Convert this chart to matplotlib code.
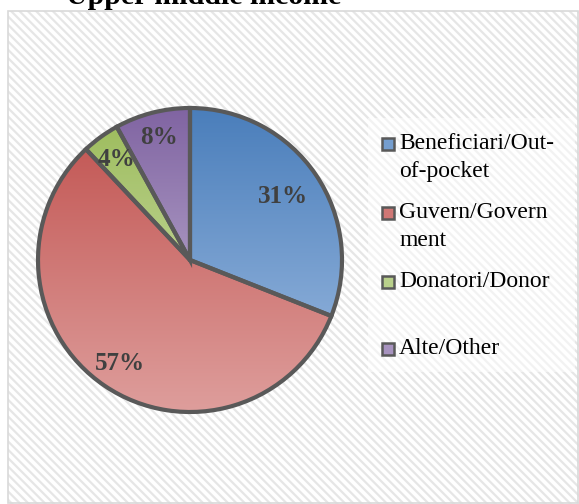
import numpy as np
import matplotlib
matplotlib.use("Agg")
import matplotlib.pyplot as plt
from matplotlib.patches import Rectangle
from matplotlib.colors import to_rgb

plt.rcParams['font.family'] = ['Liberation Serif', 'DejaVu Serif']
plt.rcParams['hatch.linewidth'] = 1.6

title = "Upper middle income"
labels = ["Beneficiari/Out-\nof-pocket", "Guvern/Govern\nment", "Donatori/Donor", "Alte/Other"]
values = [31, 57, 4, 8]
top_colors = ["#4a7ebb", "#c0504d", "#9bbb59", "#8064a2"]
bottom_colors = ["#a0bde2", "#de9e9c", "#d7e4bd", "#cdc2dc"]
pct_dist = [0.74, 0.82, 0.82, 0.83]

W, H = 579, 504
fig = plt.figure(figsize=(W / 100, H / 100), dpi=100)

def fx(px):
    return px / W

def fy(py):
    return 1 - py / H

# striped chart area background
bg = Rectangle((fx(8), 0), 1 - fx(8), fy(11), transform=fig.transFigure,
               facecolor='white', edgecolor='#e6e6e6', hatch='\\\\\\\\', lw=0, zorder=0)
fig.patches.append(bg)
frame = Rectangle((fx(8), fy(503)), fx(570), fy(11) - fy(503), transform=fig.transFigure,
                  facecolor='none', edgecolor='#d9d9d9', lw=1.2, zorder=1)
fig.patches.append(frame)
# lighter legend area
fig.patches.append(Rectangle((fx(368), fy(372)), fx(575) - fx(368), fy(118) - fy(372),
                             transform=fig.transFigure, facecolor='white', alpha=0.5,
                             lw=0, zorder=1))

fig.text(fx(204), fy(4), title, ha='center', va='baseline', fontsize=21.5,
         fontweight='bold', color='black')

# pie axes: center (190, 260), radius 152 px
ax = fig.add_axes([fx(38), fy(412), fx(304), fy(108) - fy(412)])
ax.set_zorder(2)
wedges, _ = ax.pie(values, startangle=90, counterclock=False, radius=1,
                   wedgeprops=dict(edgecolor='#595959', linewidth=3.0, facecolor='none'))
ax.set_xlim(-1, 1)
ax.set_ylim(-1, 1)
ax.set_aspect('auto')
ax.axis('off')

n = 256
for w, c0, c1 in zip(wedges, top_colors, bottom_colors):
    t = np.linspace(0, 1, n)[:, None]
    grad = (1 - t) * np.array(to_rgb(c0)) + t * np.array(to_rgb(c1))
    img = ax.imshow(grad[:, None, :].repeat(2, axis=1), extent=(-1, 1, -1, 1),
                    origin='upper', aspect='auto', zorder=1, interpolation='bilinear')
    img.set_clip_path(w)
    w.set_zorder(3)
    w.set_clip_on(False)

for w, v, d in zip(wedges, values, pct_dist):
    ang = np.deg2rad((w.theta1 + w.theta2) / 2)
    ax.text(d * np.cos(ang), d * np.sin(ang), f"{v}%", ha='center', va='center',
            fontsize=18, fontweight='bold', color='#404040', zorder=4)

ax.set_xlim(-1, 1)
ax.set_ylim(-1, 1)

# legend
leg_y = [144, 213, 282, 349]
for lab, c0, c1, y in zip(labels, top_colors, bottom_colors, leg_y):
    mid = 0.5 * (np.array(to_rgb(c0)) + np.array(to_rgb(c1)))
    fig.patches.append(Rectangle((fx(382), fy(y + 6)), fx(12), fy(y - 6) - fy(y + 6),
                                 transform=fig.transFigure, facecolor=mid,
                                 edgecolor='#595959', lw=1.8, zorder=3))
    fig.text(fx(399), fy(y - 11), lab, ha='left', va='top', fontsize=17,
             color='black', linespacing=1.45, zorder=3)

fig.savefig("out.png", dpi=100)
